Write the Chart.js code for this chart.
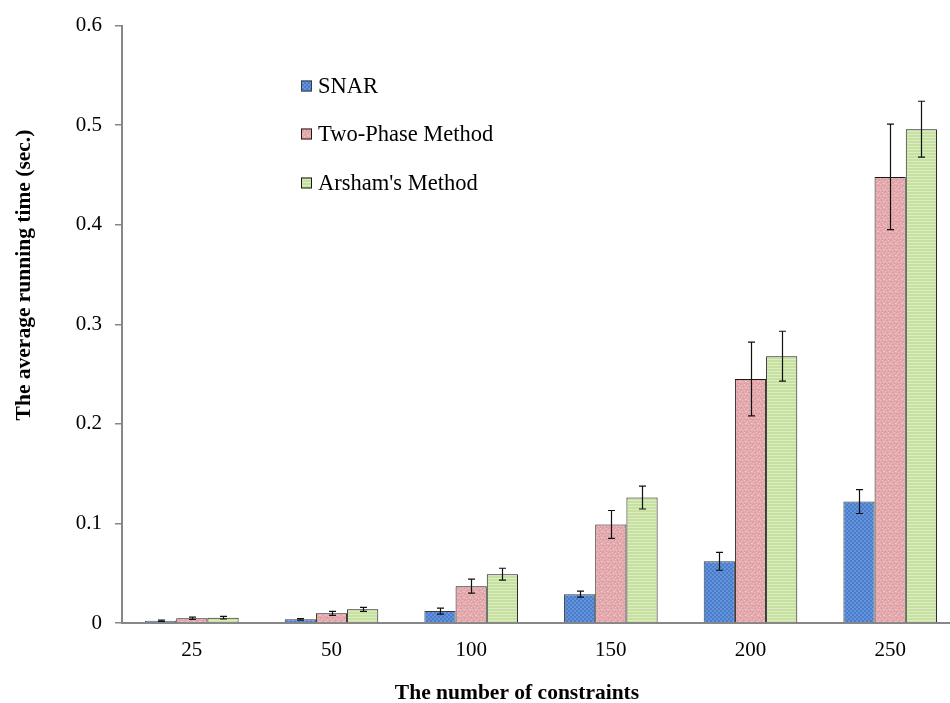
<!DOCTYPE html>
<html>
<head>
<meta charset="utf-8">
<script src="https://cdn.jsdelivr.net/npm/chart.js@4.4.1/dist/chart.umd.min.js"></script>
<style>
    html, body { margin: 0; padding: 0; background: #fff; overflow: hidden; }
    #wrap { width: 960px; height: 703px; }
</style>
</head>
<body>
<div id="wrap"><canvas id="timeChart"></canvas></div>
<script>
const constraints = ['25', '50', '100', '150', '200', '250'];
const seriesNames = ['SNAR', 'Two-Phase Method', "Arsham's Method"];

const snarTime = [0.0023, 0.0037, 0.012, 0.029, 0.062, 0.122];
const twoPhaseTime = [0.0047, 0.0097, 0.037, 0.099, 0.245, 0.448];
const arshamTime = [0.0053, 0.0137, 0.049, 0.126, 0.268, 0.496];

const snarError = [0.0007, 0.0008, 0.003, 0.003, 0.009, 0.012];
const twoPhaseError = [0.0012, 0.002, 0.007, 0.014, 0.037, 0.053];
const arshamError = [0.0013, 0.002, 0.006, 0.0115, 0.025, 0.028];

const yTicks = [0, 0.1, 0.2, 0.3, 0.4, 0.5, 0.6];

const xTitle = 'The number of constraints';
const yTitle = 'The average running time (sec.)';

const serif = "'Liberation Serif', 'Times New Roman', serif";
const axisGray = '#878787';

// small repeating tiles for the bar fills
function makeTile(w, h, paint) {
    const c = document.createElement('canvas');
    c.width = w;
    c.height = h;
    paint(c.getContext('2d'));
    return c.getContext('2d').createPattern(c, 'repeat');
}

const bluePattern = makeTile(4, 4, (g) => {
    g.fillStyle = '#4a7ccc';
    g.fillRect(0, 0, 4, 4);
    g.fillStyle = '#6593da';
    g.fillRect(0, 0, 2, 2);
    g.fillRect(2, 2, 2, 2);
});

const pinkPattern = makeTile(6, 6, (g) => {
    g.fillStyle = '#e3a9ad';
    g.fillRect(0, 0, 6, 6);
    g.fillStyle = '#efc4c6';
    g.fillRect(0, 0, 1, 1);
    g.fillRect(3, 1, 1, 1);
    g.fillRect(1, 3, 2, 1);
    g.fillRect(4, 4, 1, 1);
    g.fillStyle = '#d9979c';
    g.fillRect(2, 0, 1, 1);
    g.fillRect(5, 2, 1, 1);
    g.fillRect(0, 5, 1, 1);
    g.fillRect(3, 5, 1, 1);
});

const greenPattern = makeTile(4, 3, (g) => {
    g.fillStyle = '#c5e09f';
    g.fillRect(0, 0, 4, 3);
    g.fillStyle = '#dcedc3';
    g.fillRect(0, 2, 4, 1);
});

const fills = [bluePattern, pinkPattern, greenPattern];
const borders = ['#3c3c3c', '#1a1a1a', '#1a1a1a'];
const errors = [snarError, twoPhaseError, arshamError];

const errorBars = {
    id: 'errorBars',
    afterDatasetsDraw(chart) {
        const ctx = chart.ctx;
        const y = chart.scales.y;
        ctx.save();
        ctx.strokeStyle = '#111';
        ctx.lineWidth = 1.2;
        chart.data.datasets.forEach((ds, i) => {
            chart.getDatasetMeta(i).data.forEach((bar, j) => {
                const v = ds.data[j];
                const e = errors[i][j];
                const top = y.getPixelForValue(v + e);
                const bottom = y.getPixelForValue(v - e);
                const x = Math.round(bar.x) + 0.5;
                ctx.beginPath();
                ctx.moveTo(x, top);
                ctx.lineTo(x, bottom);
                ctx.moveTo(x - 3.5, top);
                ctx.lineTo(x + 3.5, top);
                ctx.moveTo(x - 3.5, bottom);
                ctx.lineTo(x + 3.5, bottom);
                ctx.stroke();
            });
        });
        ctx.restore();
    }
};

// legend and axis titles sit at fixed spots, like the original figure
const labelsLayer = {
    id: 'labelsLayer',
    afterDraw(chart) {
        const ctx = chart.ctx;
        const rows = [86, 134, 183];
        ctx.save();
        ctx.font = `22.5px ${serif}`;
        ctx.textBaseline = 'middle';
        seriesNames.forEach((name, i) => {
            ctx.fillStyle = fills[i];
            ctx.fillRect(301, rows[i] - 5.5, 11, 11);
            ctx.strokeStyle = borders[i];
            ctx.lineWidth = 1;
            ctx.strokeRect(301.5, rows[i] - 5, 10, 10);
            ctx.fillStyle = '#000';
            ctx.fillText(name, 318, rows[i] + 1);
        });

        ctx.font = `bold 21.5px ${serif}`;
        ctx.textAlign = 'center';
        ctx.fillText(xTitle, 517, 693);

        ctx.translate(24, 275);
        ctx.rotate(-Math.PI / 2);
        ctx.fillText(yTitle, 0, 0);
        ctx.restore();
    }
};

new Chart(document.getElementById('timeChart'), {
    type: 'bar',
    data: {
        labels: constraints,
        datasets: [snarTime, twoPhaseTime, arshamTime].map((data, i) => ({
            label: seriesNames[i],
            data,
            backgroundColor: fills[i],
            borderColor: borders[i],
            borderWidth: 1,
            categoryPercentage: 0.67,
            barPercentage: 1.0,
        })),
    },
    options: {
        responsive: true,
        maintainAspectRatio: false,
        animation: false,
        layout: { padding: { left: 0, top: 23, right: 0, bottom: 0 } },
        plugins: {
            legend: { display: false },
            tooltip: { enabled: false },
        },
        scales: {
            x: {
                grid: { display: false, drawTicks: false },
                border: { color: axisGray, width: 2 },
                ticks: {
                    color: '#000',
                    font: { family: serif, size: 21 },
                    padding: 15,
                },
                afterFit: (scale) => { scale.height = 80; },
            },
            y: {
                min: 0,
                max: 0.6,
                afterBuildTicks: (scale) => {
                    scale.ticks = yTicks.map((value) => ({ value }));
                },
                grid: {
                    drawOnChartArea: false,
                    drawTicks: true,
                    tickLength: 7,
                    color: axisGray,
                    lineWidth: 1.5,
                },
                border: { color: axisGray, width: 2 },
                ticks: {
                    color: '#000',
                    font: { family: serif, size: 21 },
                    padding: 13,
                    callback: (value) => value === 0 ? '0' : value.toFixed(1),
                },
                afterFit: (scale) => { scale.width = 122; },
            },
        },
    },
    plugins: [errorBars, labelsLayer],
});
</script>
</body>
</html>
